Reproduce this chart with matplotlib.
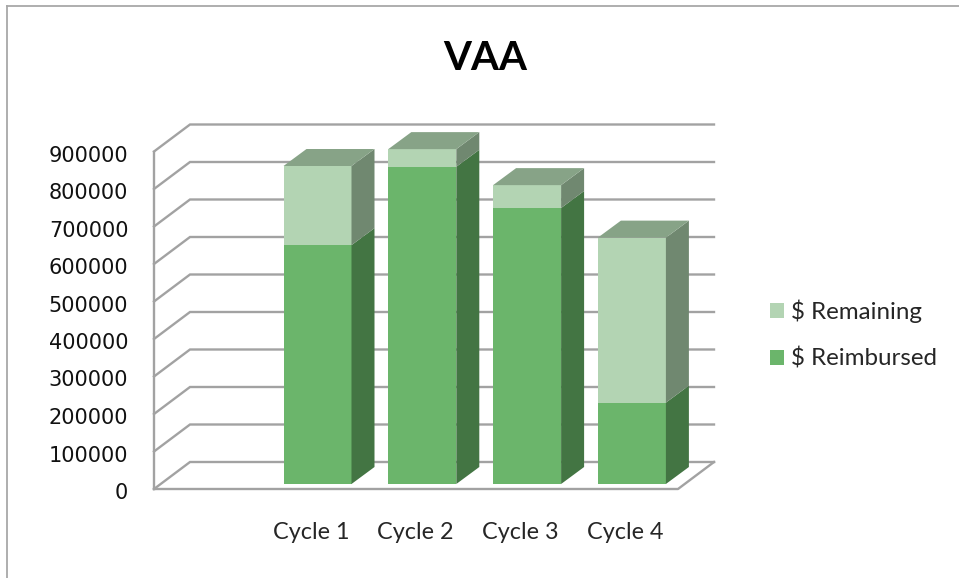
import matplotlib
matplotlib.use("Agg")
import matplotlib.pyplot as plt
from matplotlib.lines import Line2D
from matplotlib.patches import Patch, Polygon
from matplotlib.transforms import ScaledTranslation

categories = ["Cycle 1", "Cycle 2", "Cycle 3", "Cycle 4"]
reimbursed = [637000, 846000, 736000, 217000]
remaining = [211000, 47000, 61000, 440000]
ticks = [0, 100000, 200000, 300000, 400000, 500000, 600000, 700000, 800000, 900000]

W, H = 959, 578
fig = plt.figure(figsize=(W / 100, H / 100), dpi=100, facecolor="white")

# axes = front plane of the pseudo-3D chart, in pixels
L, R, T, B = 154, 678, 151.5, 489
ax = fig.add_axes([L / W, 1 - B / H, (R - L) / W, (B - T) / H])
PX_X = 104.8              # pixels per category
PX_Y = 37.5 / 100000      # pixels per unit value
FIRST = 310.8             # pixel of first category centre
ax.set_xlim(1 + (L - FIRST) / PX_X, 1 + (R - FIRST) / PX_X)
ax.set_ylim(0, 900000)
ax.patch.set_visible(False)
for s in ax.spines.values():
    s.set_visible(False)

GRID = "#a2a2a2"
LW = 1.7
wall_dx, wall_dy = 36 / PX_X, 27 / PX_Y
x0, x1 = ax.get_xlim()
for t in ticks:
    ax.plot([x0, x0 + wall_dx, x1 + wall_dx], [t, t + wall_dy, t + wall_dy],
            color=GRID, lw=LW, clip_on=False, zorder=1, solid_joinstyle="miter")
ax.plot([x0, x0], [0, 900000], color=GRID, lw=LW, clip_on=False, zorder=1)
ax.plot([x0, x1, x1 + wall_dx], [0, 0, wall_dy], color=GRID, lw=LW, clip_on=False, zorder=1)

# bars
w = 68 / PX_X
sx, sy = 6.7 / PX_X, 5 / PX_Y        # gap from the front plane
dx, dy = 23 / PX_X, 17 / PX_Y        # bar depth
C_LOW, C_HIGH = "#6bb56b", "#b3d4b3"
S_LOW, S_HIGH = "#437543", "#708870"
C_TOP = "#87a387"
positions = list(range(1, len(categories) + 1))
for c, a, b in zip(positions, reimbursed, remaining):
    xl = c + sx - w / 2
    xr = c + sx + w / 2
    ax.bar(c + sx, a, w, bottom=sy, color=C_LOW, clip_on=False, zorder=3, lw=0)
    ax.bar(c + sx, b, w, bottom=sy + a, color=C_HIGH, clip_on=False, zorder=3, lw=0)
    ax.add_patch(Polygon([(xr, sy), (xr + dx, sy + dy), (xr + dx, sy + dy + a), (xr, sy + a)],
                         fc=S_LOW, lw=0, clip_on=False, zorder=3))
    ax.add_patch(Polygon([(xr, sy + a), (xr + dx, sy + dy + a),
                          (xr + dx, sy + dy + a + b), (xr, sy + a + b)],
                         fc=S_HIGH, lw=0, clip_on=False, zorder=3))
    ax.add_patch(Polygon([(xl, sy + a + b), (xr, sy + a + b),
                          (xr + dx, sy + dy + a + b), (xl + dx, sy + dy + a + b)],
                         fc=C_TOP, lw=0, clip_on=False, zorder=3))

ax.set_yticks(ticks)
ax.set_yticklabels([str(t) for t in ticks], fontsize=15, family="DejaVu Sans",
                   color="#111111", va="center")
ax.tick_params(axis="y", length=0, pad=18.5)
shift = ScaledTranslation(0, -4 / 100, fig.dpi_scale_trans)
for lab in ax.get_yticklabels():
    lab.set_transform(lab.get_transform() + shift)
ax.set_xticks(positions)
ax.set_xticklabels(categories, fontsize=16.8, family="Lato", color="#262626")
ax.tick_params(axis="x", length=0, pad=24)

fig.text(485.5 / W, 1 - 59 / H, "VAA", fontsize=29, fontweight="bold", family="Lato",
         color="black", ha="center", va="center")

handles = [Patch(fc=C_HIGH, lw=0), Patch(fc=C_LOW, lw=0)]
ax.legend(handles, [r"\$ Remaining", r"\$ Reimbursed"], frameon=False,
          loc="upper left", bbox_to_anchor=(765 / W, 1 - 295 / H),
          bbox_transform=fig.transFigure, prop={"family": "Lato", "size": 17.4},
          labelcolor="#262626", handlelength=0.58, handleheight=0.58,
          handletextpad=0.3, labelspacing=1.02, borderpad=0.2, borderaxespad=0)

BORDER = "#a8a8a8"
fig.add_artist(Line2D([6.5 / W, 6.5 / W], [0, 1 - 5.5 / H], color=BORDER, lw=1.3))
fig.add_artist(Line2D([6.5 / W, 1], [1 - 5.5 / H, 1 - 5.5 / H], color=BORDER, lw=1.3))

fig.savefig("out.png", dpi=100, facecolor="white")
